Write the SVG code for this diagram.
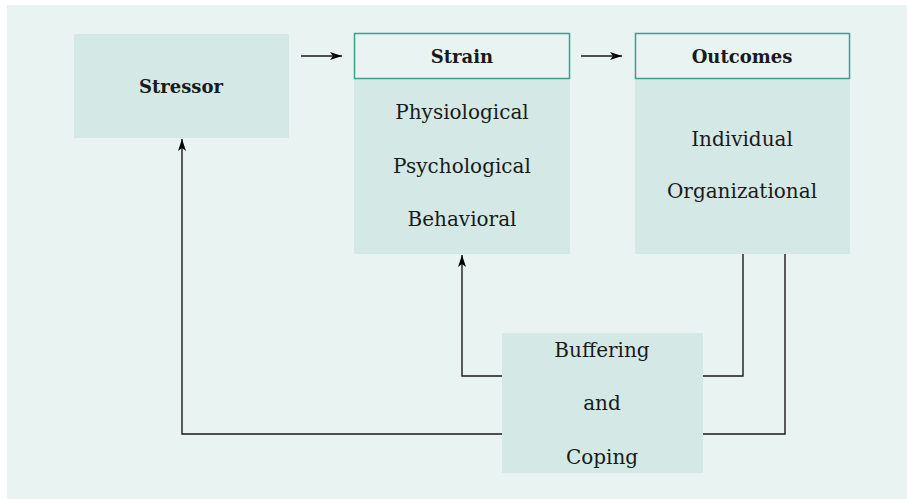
<svg xmlns="http://www.w3.org/2000/svg" width="907" height="499" viewBox="0 0 907 499">
  <defs>
    <style>
      .box { fill: #d4e9e5; }
      .head { fill: #e9f3f1; stroke: #3f9f8f; stroke-width: 1.5; }
      .t { font-family: "DejaVu Serif", "Liberation Serif", serif; font-size: 20px; fill: #1a1a1a; text-anchor: middle; }
      .b { font-weight: bold; font-size: 18px; }
      .line { fill: none; stroke: #1a1a1a; stroke-width: 1.4; }
    </style>
    <marker id="arr" viewBox="0 0 12 10" refX="12" refY="5" markerWidth="12" markerHeight="10" markerUnits="userSpaceOnUse" orient="auto">
      <path d="M0,1 L12,5 L0,9 L3,5 Z" fill="#000"/>
    </marker>
  </defs>

  <rect x="7" y="5" width="900" height="494" fill="#e9f3f1"/>

  <g id="stressor">
    <rect class="box" x="74" y="34" width="215" height="104"/>
    <text class="t b" x="181" y="93">Stressor</text>
  </g>

  <g id="strain">
    <rect class="box" x="354" y="79" width="216" height="175"/>
    <rect class="head" x="354.5" y="33.5" width="215" height="45"/>
    <text class="t b" x="462" y="63">Strain</text>
    <text class="t" x="462" y="119">Physiological</text>
    <text class="t" x="462" y="173">Psychological</text>
    <text class="t" x="462" y="226">Behavioral</text>
  </g>

  <g id="outcomes">
    <rect class="box" x="635" y="79" width="215" height="175"/>
    <rect class="head" x="635.5" y="33.5" width="214" height="45"/>
    <text class="t b" x="742" y="63">Outcomes</text>
    <text class="t" x="742" y="146">Individual</text>
    <text class="t" x="742" y="198">Organizational</text>
  </g>

  <g id="buffering">
    <rect class="box" x="502" y="333" width="201" height="140"/>
    <text class="t" x="602" y="357">Buffering</text>
    <text class="t" x="602" y="410">and</text>
    <text class="t" x="602" y="464">Coping</text>
  </g>

  <g id="connectors">
    <line class="line" x1="301" y1="56" x2="342" y2="56" marker-end="url(#arr)"/>
    <line class="line" x1="581" y1="56" x2="622" y2="56" marker-end="url(#arr)"/>
    <polyline class="line" points="502,376 462,376 462,255" marker-end="url(#arr)"/>
    <polyline class="line" points="502,434 182,434 182,139" marker-end="url(#arr)"/>
    <polyline class="line" points="743,254 743,376 703,376"/>
    <polyline class="line" points="785,254 785,434 703,434"/>
  </g>
</svg>
